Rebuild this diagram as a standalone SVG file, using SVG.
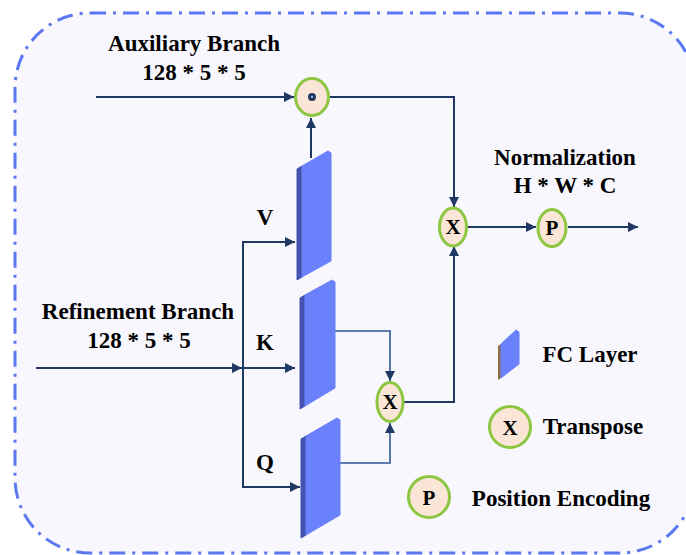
<svg xmlns="http://www.w3.org/2000/svg" width="686" height="555" viewBox="0 0 686 555">
<defs>
<style>
.t{font-family:'Liberation Serif',serif;font-weight:bold;font-size:23px;fill:#000;text-anchor:middle}
.s{font-family:'Liberation Serif',serif;font-weight:bold;font-size:21px;fill:#000;text-anchor:middle}
.ln{fill:none;stroke:#1f3864;stroke-width:2}
.ln2{fill:none;stroke:#2f5597;stroke-width:1.6}
.op{fill:#fbe5d6;stroke:#8dc640;stroke-width:3}
.front{fill:#6b80fb;stroke:#6b80fb;stroke-width:1;stroke-linejoin:round}
.side{fill:#4453b0;stroke:#4453b0;stroke-width:1;stroke-linejoin:round}
</style>
<marker id="ah" viewBox="0 0 10 10" refX="10" refY="5" markerWidth="10" markerHeight="10" markerUnits="userSpaceOnUse" orient="auto">
<path d="M0,0 L10,5 L0,10 z" fill="#1f3864"/>
</marker>
</defs>
<rect x="15" y="13" width="680" height="540" rx="75" ry="75" fill="#f7f7fd" stroke="#5b78f0" stroke-width="3" stroke-dasharray="16 7 3 7"/>

<g id="labels" font-family="Liberation Serif, serif" font-weight="bold">
<text class="t" x="194" y="51">Auxiliary Branch</text>
<text class="t" x="194" y="80">128 * 5 * 5</text>
<text class="t" x="138" y="319">Refinement Branch</text>
<text class="t" x="139" y="348">128 * 5 * 5</text>
<text class="t" x="565" y="165">Normalization</text>
<text class="t" x="565" y="193">H * W * C</text>
<text class="t" x="265" y="225">V</text>
<text class="t" x="265" y="350">K</text>
<text class="t" x="265" y="470">Q</text>
</g>

<g id="connectors">
<line class="ln" x1="96" y1="97" x2="294" y2="97" marker-end="url(#ah)"/>
<line class="ln" x1="311" y1="158" x2="311" y2="118" marker-end="url(#ah)"/>
<polyline class="ln" points="330,97 454,97 454,207" marker-end="url(#ah)"/>
<line class="ln" x1="468" y1="227" x2="536" y2="227" marker-end="url(#ah)"/>
<line class="ln" x1="568" y1="227" x2="638" y2="227" marker-end="url(#ah)"/>
<line class="ln" x1="36" y1="368" x2="242" y2="368" marker-end="url(#ah)"/>
<line class="ln" x1="243" y1="241" x2="243" y2="488"/>
<polyline class="ln" points="243,242 295,242" marker-end="url(#ah)"/>
<line class="ln" x1="243" y1="368" x2="295" y2="368" marker-end="url(#ah)"/>
<polyline class="ln" points="242,487 300,487" marker-end="url(#ah)"/>
<polyline class="ln2" points="335,331 390,331 390,381" marker-end="url(#ah)"/>
<polyline class="ln2" points="340,463 390,463 390,423" marker-end="url(#ah)"/>
<polyline class="ln" points="404,402 454,402 454,246" marker-end="url(#ah)"/>
</g>

<g id="fc-v">
<polygon class="side" points="297,169 302,166 302,277 297,280"/>
<polygon class="front" points="302,166 328,151 331,153 331,261 302,277"/>
</g>
<g id="fc-k">
<polygon class="side" points="300,298 305,295 305,406 300,409"/>
<polygon class="front" points="305,295 332,280 335,282 335,388 305,406"/>
</g>
<g id="fc-q">
<polygon class="side" points="301,439 306,436 306,535 301,538"/>
<polygon class="front" points="306,436 337,418 340,420 340,515 306,535"/>
</g>

<g id="mul-dot">
<ellipse class="op" cx="312" cy="97" rx="16.5" ry="18.5"/>
<circle cx="312" cy="97" r="4" fill="#1f3864"/>
<circle cx="312" cy="97" r="1" fill="#c9d6f0"/>
</g>
<g id="transpose-mid" font-family="Liberation Serif, serif" font-weight="bold">
<ellipse class="op" cx="390" cy="402" rx="13" ry="19.5"/>
<text class="s" x="390" y="409">X</text>
</g>
<g id="transpose-top" font-family="Liberation Serif, serif" font-weight="bold">
<ellipse class="op" cx="453" cy="227" rx="13.5" ry="19"/>
<text class="s" x="453" y="234">X</text>
</g>
<g id="pos-enc" font-family="Liberation Serif, serif" font-weight="bold">
<ellipse class="op" cx="552" cy="228" rx="14" ry="18.5"/>
<text class="s" x="552" y="235">P</text>
</g>

<g id="legend-fc" font-family="Liberation Serif, serif" font-weight="bold">
<polygon points="498,346 501,344 501,378 498,380" fill="#8a6d4a"/>
<polygon class="front" points="501,344 516,330 519,332 519,364 501,378"/>
<text class="t" x="590" y="362">FC Layer</text>
</g>
<g id="legend-transpose" font-family="Liberation Serif, serif" font-weight="bold">
<circle class="op" cx="510" cy="427" r="20.5"/>
<text class="s" x="510" y="435">X</text>
<text class="t" x="593" y="434">Transpose</text>
</g>
<g id="legend-pos" font-family="Liberation Serif, serif" font-weight="bold">
<circle class="op" cx="429" cy="497" r="20.5"/>
<text class="s" x="429" y="505">P</text>
<text class="t" x="561" y="506">Position Encoding</text>
</g>
</svg>
